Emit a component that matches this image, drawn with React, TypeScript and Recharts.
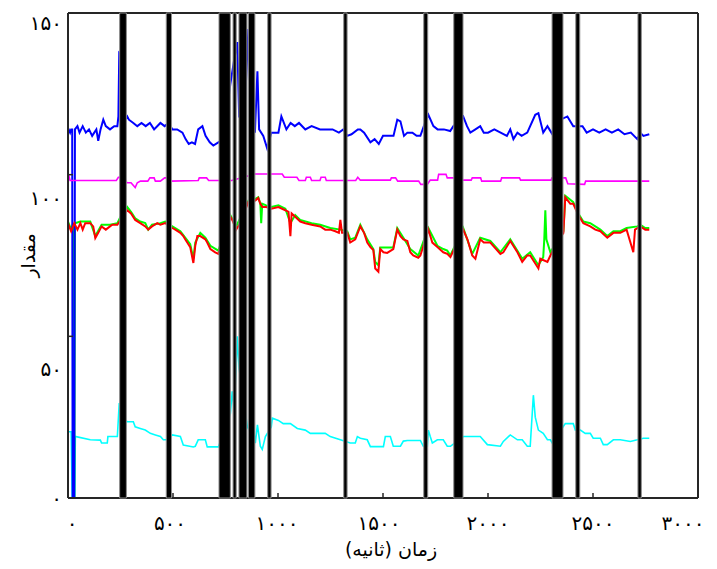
import React from 'react';
import { LineChart, Line, XAxis, YAxis, ReferenceArea, Label } from 'recharts';

const xTicks = [0, 500, 1000, 1500, 2000, 2500, 3000];
const xTickLabels = ['۰', '۵۰۰', '۱۰۰۰', '۱۵۰۰', '۲۰۰۰', '۲۵۰۰', '۳۰۰۰'];
const yTicks = [0, 50, 100, 150];
const yTickLabels = ['۰', '۵۰', '۱۰۰', '۱۵۰'];
const xTitle = 'زمان (ثانیه)';
const yTitle = 'مقدار';

// black event bands [start, end] in seconds
const bands: [number, number][] = [
  [246, 278], [468, 493], [719, 773], [786, 801], [814, 852], [859, 890],
  [951, 967], [1313, 1329], [1694, 1713], [1837, 1881], [2305, 2357],
  [2418, 2437], [2714, 2730],
];

const blue: [number, number][] = [
  [0, 114.5], [10, 113], [15, 114], [20, 114], [22, 0], [30, 0], [33, 114], [45, 115], [55, 113],
  [70, 115], [85, 113], [100, 114], [115, 112], [135, 114], [144, 110.5], [155, 114], [168, 117],
  [180, 115], [200, 114], [220, 115], [235, 115], [240, 118], [244, 137.5], [250, 137], [260, 116],
  [282, 118], [290, 117], [311, 116], [330, 115], [350, 116], [370, 115], [390, 116], [410, 114],
  [440, 116], [460, 115], [480, 116], [497, 114], [520, 114], [545, 113], [560, 111], [575, 109.5],
  [590, 110], [605, 109.5], [620, 114], [640, 115], [655, 112], [675, 110], [692, 109], [716, 110],
  [740, 111], [773, 128], [790, 135], [806, 141], [815, 118], [840, 118], [859, 145], [870, 120],
  [890, 113], [902, 132], [910, 114], [930, 112], [949, 108], [968, 113], [1002, 113], [1016, 118],
  [1040, 114], [1060, 116], [1080, 115], [1100, 116], [1130, 114], [1160, 115], [1200, 114],
  [1230, 114], [1260, 114], [1290, 113], [1311, 114], [1330, 112], [1350, 112.5], [1380, 114],
  [1392, 114], [1410, 113], [1440, 110], [1460, 111], [1480, 109.5], [1500, 112], [1530, 112],
  [1550, 112], [1568, 117], [1583, 116.5], [1600, 112], [1616, 113], [1640, 113], [1660, 112],
  [1678, 112], [1700, 116], [1716, 118.5], [1740, 115], [1760, 114], [1790, 114], [1820, 113.5],
  [1835, 115], [1882, 118], [1900, 115], [1916, 113], [1940, 114], [1963, 115], [1980, 113],
  [2000, 113], [2030, 114], [2060, 113], [2090, 112], [2106, 114], [2121, 111], [2140, 113],
  [2160, 112], [2187, 113], [2225, 118.5], [2240, 119], [2263, 113], [2283, 115], [2311, 112],
  [2345, 117], [2378, 118], [2406, 115], [2430, 115], [2450, 115], [2470, 113], [2500, 114],
  [2530, 113], [2560, 114], [2590, 113], [2620, 114], [2650, 112.5], [2680, 113], [2711, 111],
  [2725, 113], [2740, 112], [2768, 112.5],
];

const magenta: [number, number][] = [
  [0, 99], [5, 99.5], [10, 98.2], [230, 98.2], [240, 99.2], [270, 99.2], [280, 97.5], [300, 97.5],
  [320, 96], [330, 97.5], [345, 98], [380, 98], [390, 99], [410, 99], [416, 98], [440, 98],
  [460, 99], [480, 99], [490, 98], [620, 98.2], [625, 99], [660, 99], [670, 98.2], [780, 98.2],
  [890, 100.2], [1020, 100.2], [1030, 99.2], [1090, 99.2], [1100, 98.2], [1130, 98.2], [1135, 99.2],
  [1154, 99.2], [1160, 98.2], [1200, 98.2], [1205, 99.2], [1225, 99.2], [1230, 98.2], [1370, 98.2],
  [1380, 99.2], [1392, 98.3], [1535, 98.3], [1540, 99], [1560, 99], [1570, 98], [1670, 98],
  [1680, 97], [1711, 97], [1725, 98.3], [1760, 98.3], [1765, 100.1], [1800, 100.1], [1806, 99],
  [1835, 99], [1882, 98.3], [1920, 98.3], [1925, 99], [1965, 99], [1970, 98], [2060, 98],
  [2065, 99], [2150, 99], [2155, 98.3], [2300, 98.3], [2305, 99], [2370, 99], [2380, 97.2],
  [2460, 97], [2465, 98], [2768, 98],
];

const green: [number, number][] = [
  [0, 85.5], [15, 83], [24, 85], [26, 0], [30, 0], [33, 85], [59, 85.5], [82, 85.5], [106, 85.5],
  [130, 81], [160, 84.5], [200, 84.5], [235, 85], [250, 87], [282, 90], [300, 88.5], [320, 86.5],
  [344, 85.5], [368, 85], [382, 83], [400, 84.5], [440, 85], [463, 85.5], [497, 84], [535, 82.5],
  [558, 80.5], [582, 78.5], [597, 74], [606, 79], [630, 82], [654, 80.5], [678, 78], [716, 76.5],
  [773, 87.5], [801, 84], [859, 92], [892, 92.5], [906, 93], [916, 91], [920, 85], [925, 91],
  [944, 90.5], [968, 90], [1002, 90.5], [1035, 89.5], [1059, 85], [1082, 87.5], [1106, 86],
  [1160, 85], [1201, 84.5], [1249, 83.5], [1297, 83], [1330, 82.5], [1344, 80], [1368, 80.5],
  [1392, 84.5], [1425, 80], [1454, 77], [1463, 73], [1478, 72], [1487, 77.5], [1549, 77.5],
  [1568, 83.5], [1597, 80.5], [1630, 77], [1668, 75], [1716, 83.5], [1759, 78], [1787, 77],
  [1806, 76.5], [1821, 75], [1882, 83.5], [1925, 75.5], [1963, 80.5], [2011, 79.5], [2059, 76],
  [2106, 80], [2140, 76.5], [2163, 74], [2201, 76], [2240, 72], [2263, 74.5], [2268, 80],
  [2273, 89], [2278, 80], [2297, 76], [2330, 79.5], [2359, 82.5], [2368, 93.5], [2406, 91.5],
  [2430, 88], [2454, 85.5], [2487, 85], [2511, 84], [2535, 83], [2568, 81], [2597, 82.5],
  [2630, 82.5], [2660, 83.5], [2711, 84], [2725, 84.5], [2749, 83.5], [2768, 83.5],
];

const red: [number, number][] = [
  [0, 85], [15, 82.5], [30, 85], [45, 83], [59, 85], [70, 83], [82, 85], [106, 85], [120, 84],
  [130, 80.4], [144, 82], [160, 84], [180, 83], [200, 84], [211, 84.5], [235, 84.5], [250, 86],
  [282, 89], [300, 88], [320, 86], [344, 85], [368, 84], [382, 83], [400, 84], [425, 85],
  [440, 84.5], [463, 85], [497, 83.5], [511, 83], [535, 82], [549, 81], [558, 80], [582, 77.6],
  [597, 72.7], [606, 78], [616, 81], [630, 81], [654, 80], [663, 79], [678, 77], [701, 76],
  [716, 75.5], [773, 87], [782, 86], [801, 83], [820, 85], [859, 91.6], [892, 92], [906, 92.8],
  [916, 91], [925, 90], [944, 90], [968, 89.5], [1002, 90], [1035, 89], [1050, 88.5], [1059, 81],
  [1065, 88], [1082, 87], [1106, 85.5], [1130, 85], [1160, 84.5], [1201, 84], [1225, 83],
  [1249, 83], [1273, 82.5], [1290, 82], [1297, 86], [1305, 82], [1330, 82], [1344, 79],
  [1368, 80], [1392, 84], [1410, 82], [1425, 79], [1440, 77.6], [1454, 76.7], [1463, 71],
  [1478, 70], [1487, 77], [1502, 76], [1520, 75.8], [1549, 77], [1568, 83], [1583, 81],
  [1597, 80], [1616, 79.5], [1630, 76], [1644, 75], [1668, 74.3], [1678, 75], [1716, 83],
  [1735, 79], [1759, 77.6], [1787, 76], [1806, 75.5], [1821, 74.5], [1882, 83], [1902, 80],
  [1925, 75], [1940, 74], [1963, 80], [1980, 79], [2011, 79], [2059, 75.5], [2073, 76],
  [2106, 79.5], [2140, 76], [2163, 73], [2187, 75], [2201, 75], [2240, 71], [2249, 74],
  [2283, 73], [2297, 75], [2330, 79], [2359, 82], [2368, 93], [2392, 91], [2406, 91],
  [2430, 87.5], [2454, 85], [2487, 84], [2511, 83], [2535, 82.5], [2568, 80.5], [2597, 82],
  [2630, 82], [2660, 83], [2692, 76], [2700, 83], [2725, 84], [2749, 83], [2768, 83],
];

const cyan: [number, number][] = [
  [0, 20.5], [15, 20.5], [20, 0], [32, 0], [35, 19], [44, 18.9], [106, 18], [154, 17.9], [160, 17],
  [187, 17], [190, 19], [235, 19], [244, 29.4], [250, 25], [282, 23.6], [311, 23.6], [320, 22],
  [344, 21.5], [368, 21], [392, 20], [416, 19.5], [440, 19], [454, 18], [473, 18], [497, 19.5],
  [535, 19], [549, 16.4], [597, 15.8], [606, 16], [620, 18], [654, 18], [663, 15.8], [716, 15.8],
  [773, 26], [782, 33], [790, 28], [801, 40], [806, 50], [815, 40], [854, 22], [870, 20],
  [880, 23], [892, 17], [902, 22.6], [916, 16], [925, 15], [940, 19], [968, 22], [973, 24.7],
  [1002, 24], [1025, 23], [1059, 23], [1092, 21.5], [1130, 21], [1154, 20], [1201, 20],
  [1225, 20], [1249, 19], [1297, 18], [1344, 17], [1368, 17], [1378, 19], [1392, 18.5],
  [1425, 18], [1440, 15.9], [1502, 15.9], [1511, 19], [1535, 19], [1549, 16], [1583, 16],
  [1597, 17.6], [1616, 17.8], [1678, 17.8], [1692, 16], [1711, 16], [1716, 21], [1725, 19],
  [1735, 17], [1759, 18], [1787, 18], [1806, 16], [1821, 16], [1882, 19], [1916, 19],
  [1963, 19], [1997, 16.5], [2059, 16], [2073, 17.5], [2106, 19.5], [2140, 18], [2163, 18],
  [2187, 16], [2201, 16], [2216, 31.8], [2225, 25], [2240, 21], [2263, 20], [2283, 18],
  [2297, 18], [2306, 17], [2368, 23], [2406, 23], [2416, 21], [2440, 21], [2463, 20],
  [2487, 20], [2501, 18.5], [2535, 18.5], [2549, 16.5], [2568, 16.5], [2597, 18], [2630, 18],
  [2678, 17.5], [2711, 18], [2740, 18.5], [2768, 18.5],
];

const toRows = (pairs: [number, number][]) => pairs.map(([t, v]) => ({ t, v }));

const FONT = '"DejaVu Sans", sans-serif';
const AXIS = '#262626';
const yLabelShift: Record<number, number> = { 0: 7, 50: 40, 100: 30, 150: 13 };
const xLabelShift: Record<number, number> = { 0: 4, 500: -3, 1000: -1, 1500: -4, 2000: 0, 2500: 0, 3000: -10 };

const YTick = (props: any) => {
  const { x, y, payload } = props;
  const i = yTicks.indexOf(payload.value);
  return (
    <text x={x} y={y + (yLabelShift[payload.value] ?? 0)} textAnchor="end" fontSize={20} fontFamily={FONT} fill="#000">
      {yTickLabels[i]}
    </text>
  );
};

const XTick = (props: any) => {
  const { x, y, payload } = props;
  const i = xTicks.indexOf(payload.value);
  return (
    <text x={x + (xLabelShift[payload.value] ?? 0)} y={y} textAnchor="middle" fontSize={20} fontFamily={FONT} fill="#000">
      {xTickLabels[i]}
    </text>
  );
};

export default function App() {
  return (
    <LineChart width={701} height={553} margin={{ top: 4, right: 10, bottom: 0, left: 0 }}>
      <XAxis
        xAxisId="b" type="number" dataKey="t" domain={[0, 3000]} ticks={xTicks} allowDataOverflow
        height={63} tickSize={-5} tickMargin={37} tick={<XTick />}
        axisLine={{ stroke: AXIS, strokeWidth: 2 }} tickLine={{ stroke: AXIS, strokeWidth: 1.5 }}
      >
        <Label value={xTitle} position="insideBottom" offset={5} dx={8} fontSize={19} fontFamily={FONT} fill="#000" />
      </XAxis>
      <XAxis
        xAxisId="t" orientation="top" type="number" dataKey="t" domain={[0, 3000]} ticks={xTicks}
        height={1} tickSize={-5} tickMargin={0} tick={<g />}
        axisLine={{ stroke: AXIS, strokeWidth: 2 }} tickLine={{ stroke: AXIS, strokeWidth: 1.5 }}
      />
      <YAxis
        yAxisId="l" type="number" domain={[0, 150]} ticks={yTicks} allowDataOverflow
        width={60} tickSize={-5} tickMargin={11} tick={<YTick />}
        axisLine={{ stroke: AXIS, strokeWidth: 2 }} tickLine={{ stroke: AXIS, strokeWidth: 1.5 }}
      >
        <Label value={yTitle} angle={-90} position="insideLeft" offset={20} textAnchor="middle" fontSize={19} fontFamily={FONT} fill="#000" />
      </YAxis>
      <YAxis
        yAxisId="r" orientation="right" type="number" domain={[0, 150]} ticks={yTicks}
        width={1} tickSize={-5} tickMargin={0} tick={<g />}
        axisLine={{ stroke: AXIS, strokeWidth: 2 }} tickLine={{ stroke: AXIS, strokeWidth: 1.5 }}
      />
      <Line data={toRows(cyan)} dataKey="v" xAxisId="b" yAxisId="l" stroke="#00ffff" strokeWidth={1.6} dot={false} isAnimationActive={false} type="linear" />
      <Line data={toRows(green)} dataKey="v" xAxisId="b" yAxisId="l" stroke="#00ff00" strokeWidth={2} dot={false} isAnimationActive={false} type="linear" />
      <Line data={toRows(blue)} dataKey="v" xAxisId="b" yAxisId="l" stroke="#0000ff" strokeWidth={2} dot={false} isAnimationActive={false} type="linear" />
      <Line data={toRows(magenta)} dataKey="v" xAxisId="b" yAxisId="l" stroke="#ff00ff" strokeWidth={1.6} dot={false} isAnimationActive={false} type="linear" />
      <Line data={toRows(red)} dataKey="v" xAxisId="b" yAxisId="l" stroke="#ff0000" strokeWidth={2} dot={false} isAnimationActive={false} type="linear" />
      {bands.map(([a, b], i) => (
        <ReferenceArea
          key={i} xAxisId="b" yAxisId="l" x1={a} x2={b} y1={0} y2={150}
          fill="#000" fillOpacity={1} stroke="#8c8c8c" strokeWidth={1} zIndex={1000}
        />
      ))}
    </LineChart>
  );
}
